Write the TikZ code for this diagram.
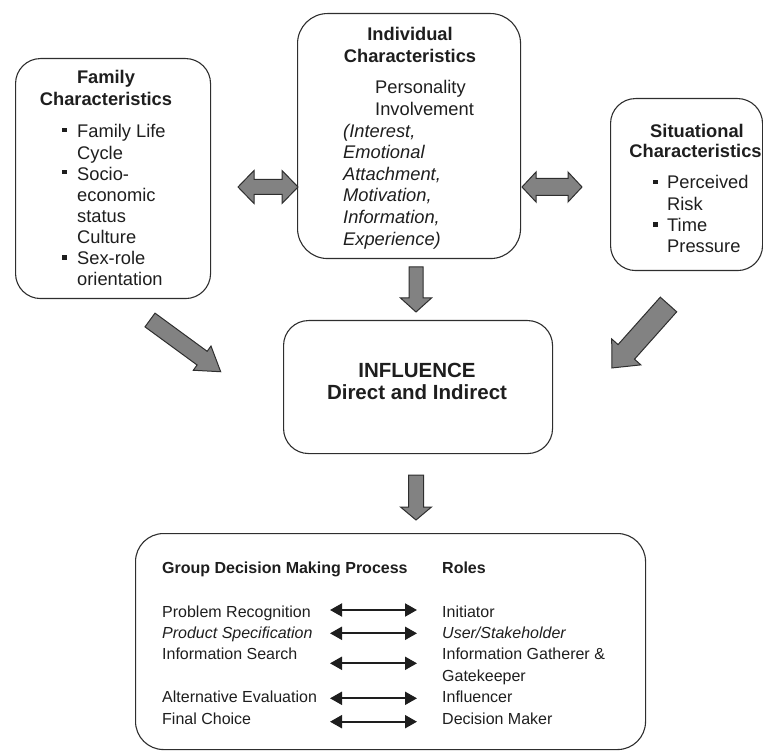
\documentclass[tikz,border=0pt]{standalone}
\usepackage{fontspec}
\setmainfont{Liberation Sans}
\usetikzlibrary{arrows.meta}
\definecolor{ink}{HTML}{1E1E1E}
\definecolor{edge}{HTML}{2E2E2E}
\definecolor{arrowgray}{HTML}{828282}
\tikzset{
  box/.style={draw=edge, line width=1.1pt, inner sep=0pt, anchor=north west},
  upper/.style={inner sep=0pt, text=ink, font=\fontsize{18.3}{21}\selectfont},
  upL/.style={upper, anchor=base west},
  upB/.style={upper, anchor=base, font=\fontsize{18.3}{21}\selectfont\bfseries},
  upI/.style={upper, anchor=base west, font=\fontsize{18.3}{21}\selectfont\itshape},
  low/.style={inner sep=0pt, text=ink, anchor=base west, font=\fontsize{16}{20}\selectfont},
  lowB/.style={low, font=\fontsize{16}{20}\selectfont\bfseries},
  lowI/.style={low, font=\fontsize{16}{20}\selectfont\itshape},
  infl/.style={inner sep=0pt, text=ink, anchor=base, font=\fontsize{20.5}{23}\selectfont\bfseries},
  bulletsq/.style={fill=ink, inner sep=0pt, minimum size=4.5pt},
  blockarrow/.style={fill=arrowgray, draw=edge, line width=1pt, line join=miter},
  thinarrow/.style={draw=ink, line width=2pt,
    {Triangle[length=12pt,width=13pt]}-{Triangle[length=12pt,width=13pt]}},
  pics/barrow/.style n args={4}{code={
    \filldraw[blockarrow] (0,#2) -- ({#1-#4},#2) -- ({#1-#4},#3) -- (#1,0)
      -- ({#1-#4},-#3) -- ({#1-#4},-#2) -- (0,-#2) -- cycle;}},
  pics/dbarrow/.style n args={4}{code={
    \filldraw[blockarrow] (0,0) -- (#4,#3) -- (#4,#2) -- ({#1-#4},#2) -- ({#1-#4},#3)
      -- (#1,0) -- ({#1-#4},-#3) -- ({#1-#4},-#2) -- (#4,-#2) -- (#4,-#3) -- cycle;}}
}
\begin{document}
\begin{tikzpicture}[x=1pt,y=-1pt]
\useasboundingbox (0,0) rectangle (763,751);

% ---------- boxes ----------
\node[box, rounded corners=25pt, minimum width=195pt, minimum height=240pt] (fam) at (15,58) {};
\node[box, rounded corners=30pt, minimum width=223pt, minimum height=245pt] (ind) at (297,13) {};
\node[box, rounded corners=25pt, minimum width=152pt, minimum height=172pt] (sit) at (610,98) {};
\node[box, rounded corners=25pt, minimum width=269pt, minimum height=133pt] (inf) at (283,320) {};
\node[box, rounded corners=28pt, minimum width=510pt, minimum height=216pt] (grp) at (135,533) {};

% ---------- family ----------
\node[upB] (famT1) at (106,84) {Family};
\node[upB] (famT2) at (106,106) {Characteristics};
\node[bulletsq] (famB1) at (64.5,130) {};
\node[bulletsq] (famB2) at (64.5,172.2) {};
\node[bulletsq] (famB3) at (64.5,257.6) {};
\node[upL] (fam1) at (77,138) {Family Life};
\node[upL] (fam2) at (77,159.1) {Cycle};
\node[upL] (fam3) at (77,180.2) {Socio-};
\node[upL] (fam4) at (77,201.3) {economic};
\node[upL] (fam5) at (77,222.4) {status};
\node[upL] (fam6) at (77,243.5) {Culture};
\node[upL] (fam7) at (77,264.6) {Sex-role};
\node[upL] (fam8) at (77,285.7) {orientation};

% ---------- individual ----------
\node[upB] (indT1) at (410,41) {Individual};
\node[upB] (indT2) at (410,63) {Characteristics};
\node[upL] (ind1) at (375,94) {Personality};
\node[upL] (ind2) at (375,115.6) {Involvement};
\node[upI] (ind3) at (343,137.2) {(Interest,};
\node[upI] (ind4) at (343,158.8) {Emotional};
\node[upI] (ind5) at (343,180.4) {Attachment,};
\node[upI] (ind6) at (343,202) {Motivation,};
\node[upI] (ind7) at (343,223.6) {Information,};
\node[upI] (ind8) at (343,245.2) {Experience)};

% ---------- situational ----------
\node[upB] (sitT1) at (697,138) {Situational};
\node[upB] (sitT2) at (695.5,158) {Characteristics};
\node[bulletsq] (sitB1) at (655.5,182) {};
\node[bulletsq] (sitB2) at (655.5,224.6) {};
\node[upL] (sit1) at (667,189) {Perceived};
\node[upL] (sit2) at (667,210.3) {Risk};
\node[upL] (sit3) at (667,231.6) {Time};
\node[upL] (sit4) at (667,253) {Pressure};

% ---------- influence ----------
\node[infl] (infT1) at (417,377) {INFLUENCE};
\node[infl] (infT2) at (417,399.3) {Direct and Indirect};

% ---------- group decision ----------
\node[lowB] (gH1) at (162,573.3) {Group Decision Making Process};
\node[lowB] (gH2) at (442,573.3) {Roles};
\node[low]  (gL1) at (162,617) {Problem Recognition};
\node[lowI] (gL2) at (162,638.4) {Product Specification};
\node[low]  (gL3) at (162,659.8) {Information Search};
\node[low]  (gL4) at (162,702.6) {Alternative Evaluation};
\node[low]  (gL5) at (162,724) {Final Choice};
\node[low]  (gR1) at (442,617) {Initiator};
\node[lowI] (gR2) at (442,638.4) {User/Stakeholder};
\node[low]  (gR3) at (442,659.8) {Information Gatherer \&};
\node[low]  (gR3b) at (442,681.2) {Gatekeeper};
\node[low]  (gR4) at (442,702.6) {Influencer};
\node[low]  (gR5) at (442,724) {Decision Maker};

\foreach \yy [count=\i] in {610,633.3,663.3,698.3,721.7}{
  \coordinate (aL\i) at (330,\yy);
  \coordinate (aR\i) at (417,\yy);
  \draw[thinarrow] (aL\i) -- (aR\i);
}

% ---------- block arrows ----------
\pic at (238,187) {dbarrow={60}{7.5}{16.5}{16}};
\pic at (522,187) {dbarrow={60}{8.5}{15}{14}};
\pic[rotate=-90] at (416,267) {barrow={45}{7}{15.5}{14}};
\pic[rotate=-90] at (416,475) {barrow={45}{7.5}{15.5}{13}};
\pic[rotate=-36.2] at (150,320) {barrow={87.6}{8.5}{15}{23}};
\pic[rotate=-131.7] at (668.5,304.5) {barrow={85}{11}{19.5}{21.5}};
\end{tikzpicture}
\end{document}
